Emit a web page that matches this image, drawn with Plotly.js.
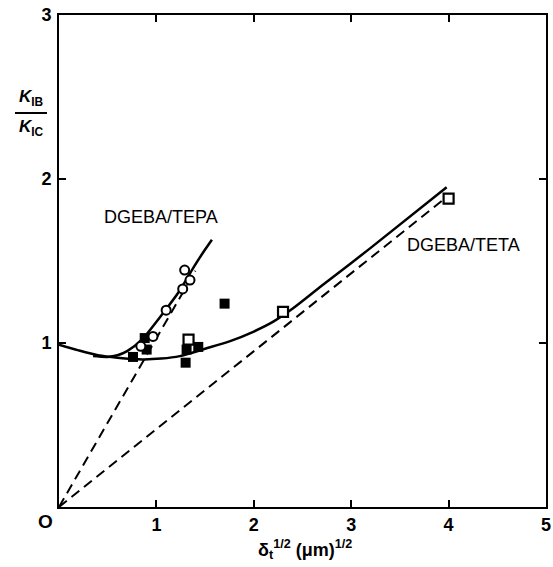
<!DOCTYPE html>
<html><head><meta charset="utf-8">
<script src="https://cdn.plot.ly/plotly-3.0.1.min.js"></script>
<style>body{margin:0;background:#fff}#c{width:553px;height:567px}</style>
</head><body><div id="c"></div>
<script>
// TEPA open circles
const tepaX = [1.29, 1.345, 1.27, 1.10, 0.965, 0.84];
const tepaY = [1.445, 1.384, 1.33, 1.20, 1.04, 0.98];
// filled squares
const filledX = [1.70, 1.43, 1.31, 1.30, 0.88, 0.76, 0.90];
const filledY = [1.24, 0.976, 0.96, 0.88, 1.03, 0.915, 0.96];
// TETA open squares
const tetaX = [1.33, 2.30, 4.0];
const tetaY = [1.02, 1.19, 1.88];
// solid fitted curves
const tetaCurveX = [0, 0.2, 0.4, 0.6, 0.86, 1.05, 1.24, 1.5, 1.75, 2.0, 2.2, 2.4, 2.7, 3.2, 3.98];
const tetaCurveY = [0.99, 0.955, 0.925, 0.91, 0.90, 0.905, 0.92, 0.965, 1.01, 1.07, 1.13, 1.21, 1.35, 1.58, 1.95];
const tepaCurveX = [0.35, 0.5, 0.6, 0.70, 0.85, 1.04, 1.24, 1.38, 1.50, 1.57];
const tepaCurveY = [0.92, 0.915, 0.925, 0.95, 1.02, 1.16, 1.32, 1.46, 1.57, 1.63];
// dashed lines from origin
const dash1X = [0, 1.40];
const dash1Y = [0, 1.44];
const dash2X = [0, 4.0];
const dash2Y = [0, 1.9];
const xTicks = [1, 2, 3, 4, 5];
const yTicks = [1, 2, 3];

const F = 'Liberation Sans, Arial, sans-serif';
const traces = [
  {x: dash1X, y: dash1Y, mode: 'lines', line: {color: '#000', width: 2, dash: '10px,6px'}},
  {x: dash2X, y: dash2Y, mode: 'lines', line: {color: '#000', width: 2, dash: '10px,6px'}},
  {x: tetaCurveX, y: tetaCurveY, mode: 'lines', line: {color: '#000', width: 2.5, shape: 'spline', smoothing: 0.8}},
  {x: tepaCurveX, y: tepaCurveY, mode: 'lines', line: {color: '#000', width: 2.5, shape: 'spline', smoothing: 0.8}},
  {x: filledX, y: filledY, mode: 'markers', marker: {symbol: 'square', size: 10, color: '#000'}},
  {x: tepaX, y: tepaY, mode: 'markers', marker: {symbol: 'circle', size: 9, color: '#fff', line: {color: '#000', width: 2}}},
  {x: tetaX, y: tetaY, mode: 'markers', marker: {symbol: 'square', size: 10, color: '#fff', line: {color: '#000', width: 2.2}}}
];
function px(x) { return (x - 59) / (553 - 59 - 7); }
function py(y) { return (567 - 60 - y) / (567 - 15 - 60); }
const layout = {
  width: 553, height: 567, showlegend: false,
  paper_bgcolor: '#fff', plot_bgcolor: '#fff',
  margin: {l: 59, r: 7, t: 15, b: 60},
  font: {family: F, color: '#000', size: 18},
  xaxis: {range: [0, 5], tickvals: xTicks, ticktext: xTicks.map(v => '<b>' + v + '</b>'),
    ticks: 'inside', ticklen: 7, tickwidth: 2, tickcolor: '#000', showgrid: false, zeroline: false,
    showline: true, linecolor: '#000', linewidth: 2, mirror: 'ticks', tickfont: {size: 18, family: F}},
  yaxis: {range: [0, 3], tickvals: yTicks, ticktext: yTicks.map(v => '<b>' + v + '</b>'),
    ticks: 'inside', ticklen: 7, tickwidth: 2, tickcolor: '#000', showgrid: false, zeroline: false,
    showline: true, linecolor: '#000', linewidth: 2, mirror: 'ticks', tickfont: {size: 18, family: F}, ticklabelstandoff: 2},
  annotations: [
    {text: '<b>O</b>', x: 0, y: 0, xref: 'x', yref: 'y', xanchor: 'right', yanchor: 'top', xshift: -4, yshift: -2, showarrow: false, font: {size: 19, family: F}},
    {text: 'DGEBA/TEPA', x: 1.05, y: 1.77, xref: 'x', yref: 'y', showarrow: false, font: {size: 18, family: F}},
    {text: 'DGEBA/TETA', x: 4.15, y: 1.60, xref: 'x', yref: 'y', showarrow: false, font: {size: 18, family: F}},
    {text: '<b>δ<sub>t</sub><sup>1/2</sup> (μm)<sup>1/2</sup></b>', x: px(305), y: py(549), xref: 'paper', yref: 'paper', xanchor: 'center', yanchor: 'middle', showarrow: false, font: {size: 18, family: F}},
    {text: '<b><i>K</i><sub>IB</sub></b>', x: px(31), y: py(111), xref: 'paper', yref: 'paper', xanchor: 'center', yanchor: 'bottom', showarrow: false, font: {size: 17, family: F}},
    {text: '<b><i>K</i><sub>IC</sub></b>', x: px(31), y: py(115), xref: 'paper', yref: 'paper', xanchor: 'center', yanchor: 'top', showarrow: false, font: {size: 17, family: F}}
  ],
  shapes: [
    {type: 'line', xref: 'paper', yref: 'paper', x0: px(15), x1: px(47), y0: py(113), y1: py(113), line: {color: '#000', width: 2}}
  ]
};
Plotly.newPlot('c', traces, layout, {displayModeBar: false, staticPlot: true});
</script></body></html>
